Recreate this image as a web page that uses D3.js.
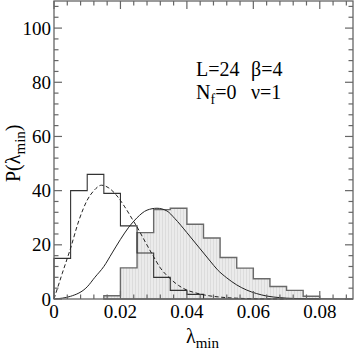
<!DOCTYPE html>
<html>
<head>
<meta charset="utf-8">
<script src="https://cdn.jsdelivr.net/npm/d3@7"></script>
<style>
html,body{margin:0;padding:0;background:#fff;}
svg{display:block;}
text{font-family:"Liberation Serif","Times New Roman",serif;fill:#000;}
</style>
</head>
<body>
<svg id="chart" width="354" height="350"></svg>
<script>
// ---- data ----
const binWidth = 0.005;
const openBinStarts = [0, 0.005, 0.01, 0.015, 0.02, 0.025, 0.03, 0.035, 0.04];
const openCounts    = [15, 40, 46, 39, 27, 17, 8, 3.2, 1.7];
const grayBinStarts = [0.015, 0.02, 0.025, 0.03, 0.035, 0.04, 0.045, 0.05, 0.055, 0.06, 0.065, 0.07, 0.075];
const grayCounts    = [1.2, 11.5, 24.5, 33, 33.5, 27.6, 22.5, 15.3, 11.4, 7.5, 4.6, 3.2, 1];
const solidX = [0, 0.005, 0.01, 0.0123, 0.015, 0.0175, 0.02, 0.0225, 0.025, 0.028, 0.031, 0.034, 0.0363, 0.04, 0.0438, 0.047, 0.0492, 0.052, 0.055, 0.058, 0.061, 0.064, 0.068, 0.072, 0.08, 0.09];
const solidY = [0, 1, 4.5, 8, 12, 17, 22, 26.5, 30, 32.8, 33.5, 32.5, 29.8, 24.5, 18.8, 14, 10.8, 7.8, 5.2, 3.3, 2, 1.1, 0.5, 0.2, 0.05, 0];
const dashX = [0, 0.0025, 0.005, 0.0075, 0.01, 0.012, 0.0143, 0.0165, 0.019, 0.0213, 0.0238, 0.0248, 0.0275, 0.0298, 0.032, 0.0348, 0.0375, 0.0398, 0.0425, 0.0448, 0.05, 0.055, 0.06, 0.07];
const dashY = [0, 9.5, 18.8, 29, 36.5, 40, 42, 41, 38, 34, 29, 27, 21, 16, 11.5, 7.7, 5, 3.4, 2.3, 1.6, 0.7, 0.3, 0.1, 0];
const xMajorTicks = [0, 0.02, 0.04, 0.06, 0.08];
const xTickLabels = ["0", "0.02", "0.04", "0.06", "0.08"];
const yMajorTicks = [0, 20, 40, 60, 80, 100];
const yTickLabels = ["0", "20", "40", "60", "80", "100"];
const xMinorStep = 0.004;
const yMinorStep = 4;
const xDomain = [0, 0.09];
const yDomain = [0, 110];

// ---- layout ----
const svg = d3.select("#chart");
const L = 54, R = 353, T = 1, B = 299;
const x = d3.scaleLinear().domain(xDomain).range([L, R]);
const y = d3.scaleLinear().domain(yDomain).range([B, T]);

// hatch pattern for gray histogram
const defs = svg.append("defs");
const pat = defs.append("pattern").attr("id", "hatch").attr("patternUnits", "userSpaceOnUse")
  .attr("width", 3).attr("height", 3);
pat.append("rect").attr("width", 3).attr("height", 3).attr("fill", "#ebebeb");
pat.append("line").attr("x1", 0.5).attr("x2", 0.5).attr("y1", 0).attr("y2", 3)
  .attr("stroke", "#dcdcdc").attr("stroke-width", 1);

function stepPoints(starts, counts) {
  const pts = [[starts[0], 0]];
  starts.forEach((s, i) => {
    pts.push([s, counts[i]]);
    pts.push([s + binWidth, counts[i]]);
  });
  pts.push([starts[starts.length - 1] + binWidth, 0]);
  return pts;
}
const lineLin = d3.line().x(d => x(d[0])).y(d => y(d[1]));

// gray histogram
const gpts = stepPoints(grayBinStarts, grayCounts);
svg.append("path").attr("d", lineLin(gpts) + "Z")
  .attr("fill", "url(#hatch)").attr("stroke", "#6a6a6a").attr("stroke-width", 1.4);

// open histogram
const opts = stepPoints(openBinStarts, openCounts);
svg.append("path").attr("d", lineLin(opts))
  .attr("fill", "none").attr("stroke", "#333").attr("stroke-width", 1.1);

// curves
const curve = d3.line().x(d => x(d[0])).y(d => y(d[1])).curve(d3.curveMonotoneX);
svg.append("path").attr("d", curve(solidX.map((v, i) => [v, solidY[i]])))
  .attr("fill", "none").attr("stroke", "#222").attr("stroke-width", 1);
svg.append("path").attr("d", curve(dashX.map((v, i) => [v, dashY[i]])))
  .attr("fill", "none").attr("stroke", "#222").attr("stroke-width", 1)
  .attr("stroke-dasharray", "4,2.5");

// frame
svg.append("rect").attr("x", L).attr("y", T).attr("width", R - L).attr("height", B - T)
  .attr("fill", "none").attr("stroke", "#666").attr("stroke-width", 1.3);

// ticks
const axisColor = "#666";
const xMinor = d3.range(xDomain[0], xDomain[1] + 1e-9, xMinorStep);
const yMinor = d3.range(yDomain[0], yDomain[1] + 1e-9, yMinorStep);
const tg = svg.append("g").attr("stroke", axisColor).attr("stroke-width", 1.2);
function isMajor(v, majors) { return majors.some(m => Math.abs(m - v) < 1e-9); }
xMinor.forEach(v => {
  const len = isMajor(v, xMajorTicks) ? 8 : 4.5;
  tg.append("line").attr("x1", x(v)).attr("x2", x(v)).attr("y1", B).attr("y2", B - len);
  tg.append("line").attr("x1", x(v)).attr("x2", x(v)).attr("y1", T).attr("y2", T + len);
});
yMinor.forEach(v => {
  const len = isMajor(v, yMajorTicks) ? 8 : 4.5;
  tg.append("line").attr("x1", L).attr("x2", L + len).attr("y1", y(v)).attr("y2", y(v));
  tg.append("line").attr("x1", R).attr("x2", R - len).attr("y1", y(v)).attr("y2", y(v));
});

// tick labels
const fs = 19;
xMajorTicks.forEach((v, i) => {
  svg.append("text").attr("x", x(v)).attr("y", 318).attr("text-anchor", "middle")
    .attr("font-size", fs).text(xTickLabels[i]);
});
yMajorTicks.forEach((v, i) => {
  svg.append("text").attr("x", 51).attr("y", y(v) + 6.5).attr("text-anchor", "end")
    .attr("font-size", fs).text(yTickLabels[i]);
});

// axis labels
const xl = svg.append("text").attr("x", 186).attr("y", 343).attr("font-size", 20);
xl.append("tspan").text("λ");
xl.append("tspan").attr("dy", 5).attr("font-size", 15).text("min");

const yl = svg.append("text").attr("transform", "translate(20,182) rotate(-90)")
  .attr("text-anchor", "start").attr("font-size", 20);
yl.append("tspan").text("P(λ");
yl.append("tspan").attr("dy", 5).attr("font-size", 15).text("min");
yl.append("tspan").attr("dy", -5).text(")");

// annotation
svg.append("text").attr("x", 196).attr("y", 76).attr("font-size", 20).text("L=24");
svg.append("text").attr("x", 251).attr("y", 76).attr("font-size", 20).text("β=4");
const nf = svg.append("text").attr("x", 196).attr("y", 99).attr("font-size", 20);
nf.append("tspan").text("N");
nf.append("tspan").attr("dy", 5).attr("font-size", 14).text("f");
nf.append("tspan").attr("dy", -5).text("=0");
svg.append("text").attr("x", 251).attr("y", 99).attr("font-size", 20).text("ν=1");
</script>
</body>
</html>
